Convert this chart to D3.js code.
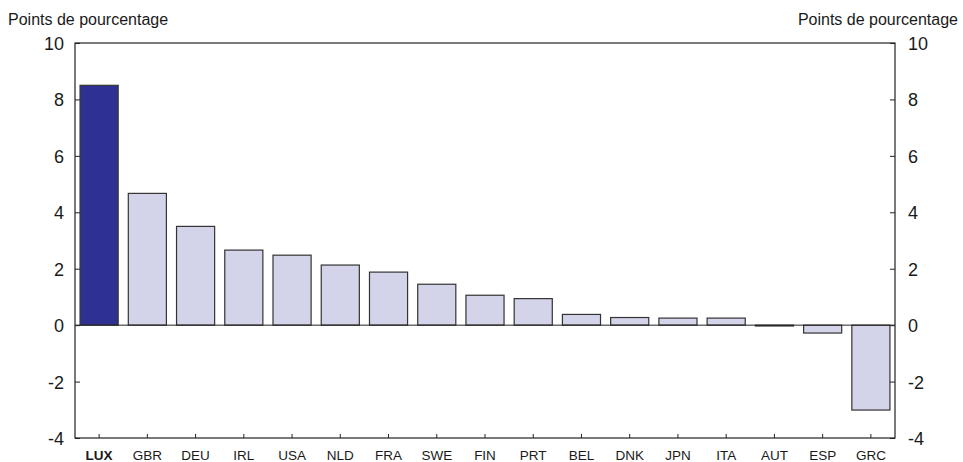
<!DOCTYPE html>
<html><head><meta charset="utf-8">
<script src="https://cdn.jsdelivr.net/npm/d3@7"></script>
<style>body{margin:0;background:#fff}svg{display:block}text{font-family:"Liberation Sans",Arial,sans-serif;fill:#1a1a1a}</style>
</head><body><svg id="c" width="963" height="462"></svg>
<script>
const categories = ["LUX","GBR","DEU","IRL","USA","NLD","FRA","SWE","FIN","PRT","BEL","DNK","JPN","ITA","AUT","ESP","GRC"];
const values = [8.5,4.67,3.5,2.66,2.48,2.13,1.88,1.45,1.06,0.94,0.38,0.27,0.25,0.25,-0.03,-0.28,-3.01];
const yTicks = [-4,-2,0,2,4,6,8,10];
const highlight = "LUX";
const axisTitle = "Points de pourcentage";

const svg = d3.select("#c");
const m = {l:75, r:963-895, t:43, b:462-438};
const W = 963, H = 462;
const x = d3.scaleBand().domain(categories).range([m.l, W-m.r]).paddingInner(0.21).paddingOuter(0.105);
const y = d3.scaleLinear().domain([-4,10]).range([H-m.b, m.t]);

// bars
svg.append("g").selectAll("rect").data(categories).join("rect")
  .attr("x", d=>x(d)).attr("width", x.bandwidth())
  .attr("y", (d,i)=>y(Math.max(0,values[i])))
  .attr("height", (d,i)=>Math.abs(y(values[i])-y(0)))
  .attr("fill", d=>d===highlight?"#2e3192":"#d3d3ea")
  .attr("stroke", "#333").attr("stroke-width", 1.2);

// zero line
svg.append("line").attr("x1",m.l).attr("x2",W-m.r).attr("y1",y(0)).attr("y2",y(0)).attr("stroke","#222").attr("stroke-width",1);

// frame
svg.append("rect").attr("x",m.l).attr("y",m.t).attr("width",W-m.r-m.l).attr("height",H-m.b-m.t)
  .attr("fill","none").attr("stroke","#222").attr("stroke-width",1.2);

const fmt = d => String(d);
// left axis
const la = svg.append("g").attr("transform",`translate(${m.l},0)`)
  .call(d3.axisRight(y).tickValues(yTicks).tickSize(5).tickFormat(fmt));
la.select(".domain").remove();
la.selectAll("text").attr("x",-11).attr("text-anchor","end").style("font-size","18px").attr("dy","0.36em");
la.selectAll("line").attr("stroke","#222");
// right axis
const ra = svg.append("g").attr("transform",`translate(${W-m.r},0)`)
  .call(d3.axisLeft(y).tickValues(yTicks).tickSize(5).tickFormat(fmt));
ra.select(".domain").remove();
ra.selectAll("text").attr("x",13).attr("text-anchor","start").style("font-size","18px").attr("dy","0.36em");
ra.selectAll("line").attr("stroke","#222");
// bottom axis
const ba = svg.append("g").attr("transform",`translate(0,${H-m.b})`)
  .call(d3.axisTop(x).tickSize(4));
ba.select(".domain").remove();
ba.selectAll("line").attr("stroke","#222");
ba.selectAll("text").attr("y",22).attr("dy",0).style("font-size","13.5px")
  .style("font-weight", d=>d===highlight?"bold":"normal");

svg.selectAll(".tick text").attr("fill","#1a1a1a");
svg.selectAll("g").attr("font-family",null);

// titles
svg.append("text").attr("x",8).attr("y",25).style("font-size","16px").text(axisTitle);
svg.append("text").attr("x",958).attr("y",25).attr("text-anchor","end").style("font-size","16px").text(axisTitle);
</script></body></html>
